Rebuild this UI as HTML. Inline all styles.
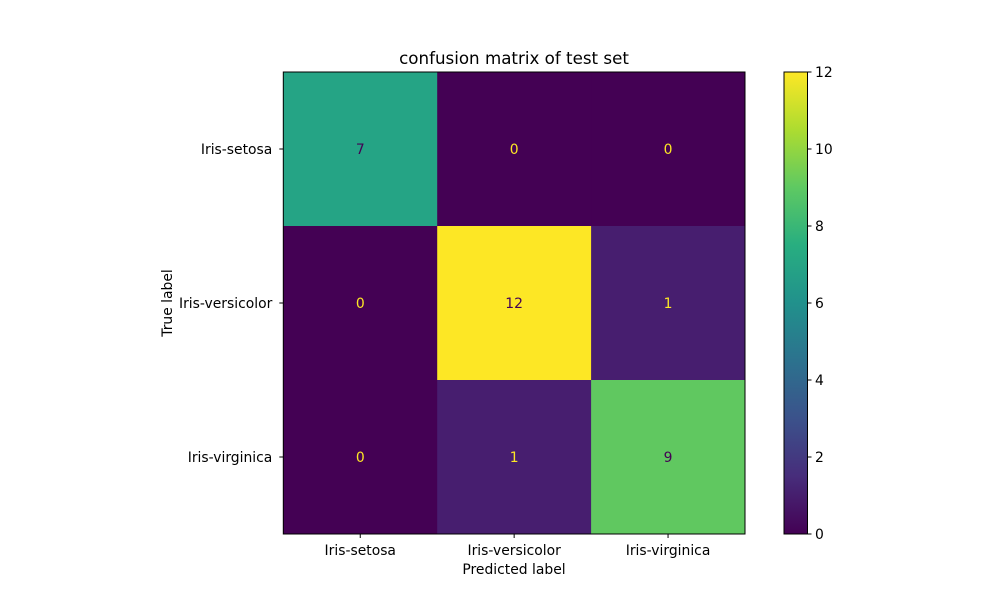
<!DOCTYPE html>
<html><head><meta charset="utf-8"><style>body{margin:0;background:#fff}svg text{font-family:"DejaVu Sans","Liberation Sans",sans-serif}</style></head>
<body>
<svg id="c" width="1000" height="600" xmlns="http://www.w3.org/2000/svg">
<defs><linearGradient id="vg" x1="0" y1="1" x2="0" y2="0">
<stop offset="0" stop-color="#440154"/><stop offset="0.125" stop-color="#472d7b"/><stop offset="0.25" stop-color="#3b528b"/><stop offset="0.375" stop-color="#2c728e"/><stop offset="0.5" stop-color="#21918c"/><stop offset="0.625" stop-color="#28ae80"/><stop offset="0.75" stop-color="#5ec962"/><stop offset="0.875" stop-color="#addc30"/><stop offset="1" stop-color="#fde725"/></linearGradient></defs>
<text x="514" y="64" font-size="16.7" text-anchor="middle">confusion matrix of test set</text>
<g id="cells"></g>
<rect x="784" y="72" width="23.5" height="462" fill="url(#vg)" stroke="#000" stroke-width="1"/>
<g id="ax"></g>
<text x="514" y="574" font-size="13.9" text-anchor="middle">Predicted label</text>
<text transform="translate(172,303) rotate(-90)" font-size="13.9" text-anchor="middle">True label</text>
</svg>
<script>
const labels=["Iris-setosa","Iris-versicolor","Iris-virginica"];
const matrix=[[7,0,0],[0,12,1],[0,1,9]];
const cbTicks=[0,2,4,6,8,10,12];
const NS="http://www.w3.org/2000/svg";
const L=283.3,T=72,W=461.7,H=462,n=labels.length,cw=W/n,ch=H/n;
const vmax=Math.max(...matrix.flat()),vmin=Math.min(...matrix.flat());
const vir=["#440154","#482878","#3e4989","#31688e","#26828e","#1f9e89","#35b779","#6ece58","#b5de2b","#fde725"];
function hx(h){return [1,3,5].map(i=>parseInt(h.substr(i,2),16));}
function col(v){let t=(v-vmin)/(vmax-vmin)*(vir.length-1);let i=Math.min(Math.floor(t),vir.length-2),f=t-i;let a=hx(vir[i]),b=hx(vir[i+1]);return "rgb("+a.map((x,k)=>Math.round(x+(b[k]-x)*f)).join(",")+")";}
function el(t,a,p){const e=document.createElementNS(NS,t);for(const k in a)e.setAttribute(k,a[k]);p.appendChild(e);return e;}
const g=document.getElementById("cells"),ax=document.getElementById("ax");
matrix.forEach((row,r)=>row.forEach((v,c)=>{
 const rc=el("rect",{x:L+c*cw,y:T+r*ch,width:cw+0.5,height:ch+0.5,fill:col(v)},g);
 
 
 const tx=el("text",{x:L+c*cw+cw/2,y:T+r*ch+ch/2+5,"font-size":13.9,"text-anchor":"middle",fill:(v-vmin)/(vmax-vmin)<0.5?"#fde725":"#440154"},g);
 tx.textContent=v;
 
 
}));
const fr=el("rect",{x:L,y:T,width:W,height:H,fill:"none",stroke:"#000","stroke-width":1},ax);


labels.forEach((s,i)=>{
 const x=L+i*cw+cw/2,y=T+i*ch+ch/2;
 el("line",{x1:x,y1:T+H,x2:x,y2:T+H+4,stroke:"#000"},ax);
 const a=el("text",{x:x,y:T+H+21,"font-size":13.9,"text-anchor":"middle"},ax);a.textContent=s;
 
 
 el("line",{x1:L-4,y1:y,x2:L,y2:y,stroke:"#000"},ax);
 const b=el("text",{x:L-11,y:y+5,"font-size":13.9,"text-anchor":"end"},ax);b.textContent=s;
 
 
});
cbTicks.forEach(v=>{
 const y=534-(v-vmin)/(vmax-vmin)*462;
 el("line",{x1:807.5,y1:y,x2:811.5,y2:y,stroke:"#000"},ax);
 const t=el("text",{x:815,y:y+5,"font-size":13.9},ax);t.textContent=v;
 
 
});
</script>
</body></html>
